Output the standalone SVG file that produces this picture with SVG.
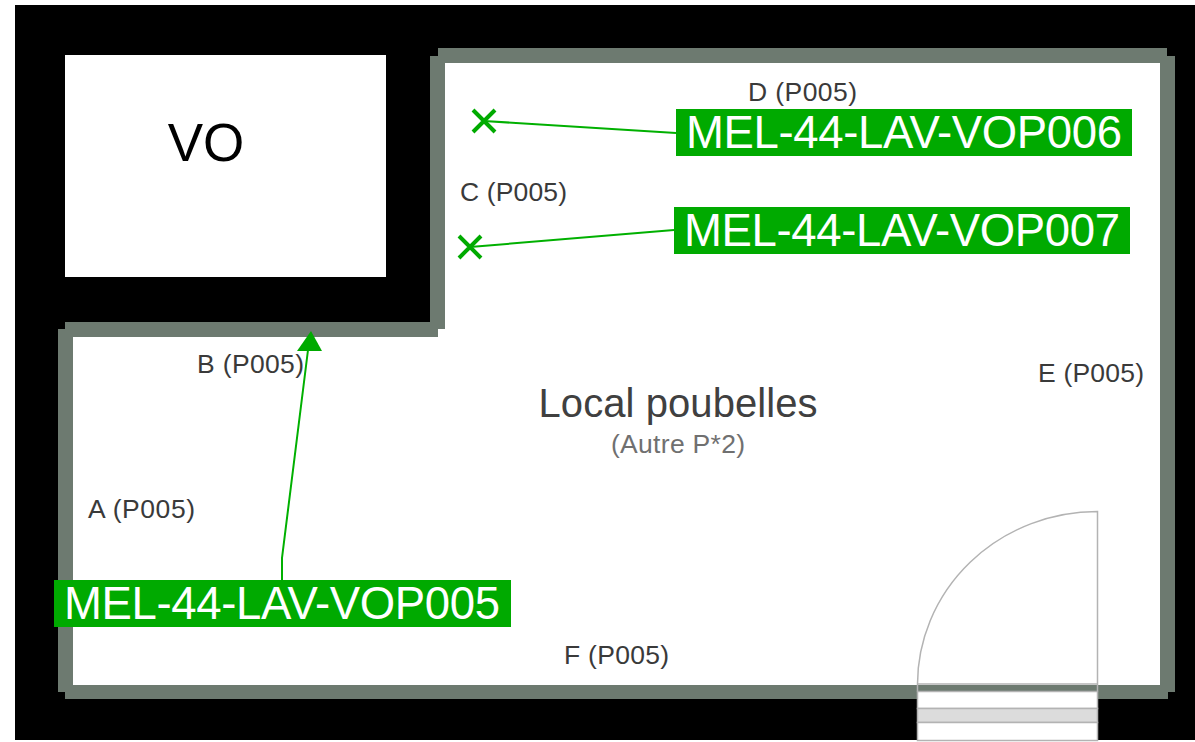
<svg xmlns="http://www.w3.org/2000/svg" width="1195" height="742" viewBox="0 0 1195 742">
<style>
text{font-family:"Liberation Sans",Arial,sans-serif}
.wall{fill:#6d7a70}
.lab{font-size:26.500px;fill:#3a3a3a}
.tag{fill:#00aa00}
.tagt{font-size:45.500px;fill:#fff}
.con{fill:none;stroke:#00b000;stroke-width:2}
.x{fill:none;stroke:#00aa00;stroke-width:4}
.door{fill:#fff;stroke:#b3b3b3;stroke-width:1.500}
</style>
<rect width="1195" height="742" fill="#fff"/>
<g id="walls">
<rect x="15" y="5" width="1180" height="735" fill="#000"/>
<path class="wall" d="M438 48H1167V56H1175V692H1168V699H65V692H58V329H65V322H430V56H438Z"/>
<path fill="#fff" d="M445 63H1160V685H73V337H438V329H445Z"/>
</g>
<g id="vo"><rect x="65" y="55" width="321" height="222" fill="#fff"/>
<text x="206" y="161" font-size="53" text-anchor="middle" fill="#000">VO</text></g>
<g id="door">
<rect class="door" x="917.500" y="691.500" width="180" height="17"/>
<rect x="917.500" y="708.500" width="180" height="14" fill="#dcdcdc" stroke="#b3b3b3" stroke-width="1.500"/>
<rect class="door" x="917.500" y="722.500" width="180" height="18"/>
<path d="M917.500 684V691.500M1097.500 684V691.500" stroke="#b3b3b3" stroke-width="1.500"/>
<path fill="none" stroke="#b3b3b3" stroke-width="1.500" d="M917.500 684A180 173 0 0 1 1097.500 511.500V684"/>
<path d="M917.500 684H1097.500" stroke="#b3b3b3" stroke-width="1.500"/>
</g>
<g id="labels">
<text class="lab" x="748" y="101" textLength="109">D (P005)</text>
<text class="lab" x="460" y="201" textLength="107">C (P005)</text>
<text class="lab" x="197" y="373" textLength="107">B (P005)</text>
<text class="lab" x="1038" y="382" textLength="106">E (P005)</text>
<text class="lab" x="88" y="518" textLength="107">A (P005)</text>
<text class="lab" x="564" y="664" textLength="105">F (P005)</text>
</g>
<g id="room-label">
<text x="678" y="417" font-size="40" text-anchor="middle" fill="#404040" textLength="279">Local poubelles</text>
<text x="678" y="453" font-size="26.500" text-anchor="middle" fill="#707070" textLength="134">(Autre P*2)</text>
</g>
<g id="connectors">
<path class="con" d="M676 133L484 121"/>
<path class="x" d="M473 110L495 132M495 110L473 132"/>
<path class="con" d="M674 230L470 247"/>
<path class="x" d="M459 236L481 258M481 236L459 258"/>
<path class="con" d="M282 580V558L308 350"/>
<path fill="#00aa00" d="M311 331L322 351H297Z"/>
</g>
<g id="tag-006"><rect class="tag" x="676" y="109" width="456" height="47"/><text class="tagt" x="686" y="148" textLength="436">MEL-44-LAV-VOP006</text></g>
<g id="tag-007"><rect class="tag" x="674" y="207" width="456" height="47"/><text class="tagt" x="684" y="246" textLength="436">MEL-44-LAV-VOP007</text></g>
<g id="tag-005"><rect class="tag" x="54" y="580" width="457" height="47"/><text class="tagt" x="64" y="619" textLength="436">MEL-44-LAV-VOP005</text></g>
</svg>
